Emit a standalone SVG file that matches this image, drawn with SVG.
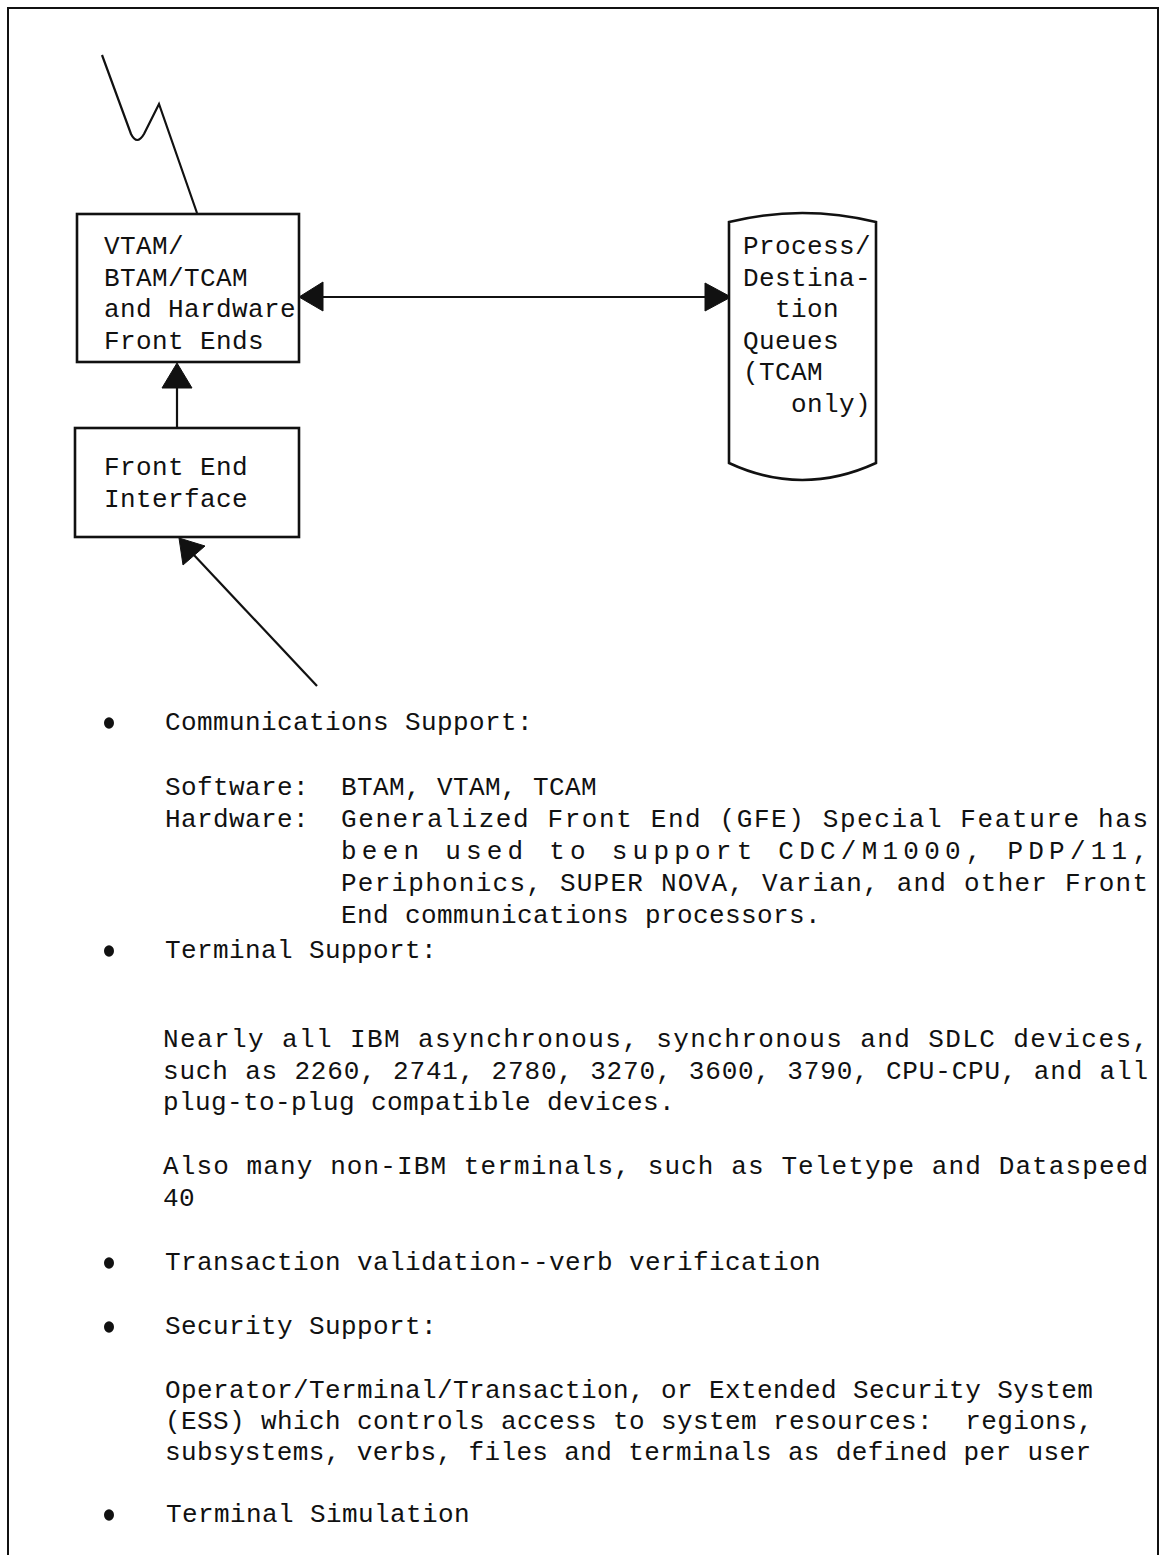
<svg xmlns="http://www.w3.org/2000/svg" width="1161" height="1555" viewBox="0 0 1161 1555">
<style>
.t{font-family:"Liberation Mono","DejaVu Sans Mono",monospace;font-size:26px;letter-spacing:0.4px;fill:#111}
.j{font-family:"Liberation Mono","DejaVu Sans Mono",monospace;font-size:26px;fill:#111}
.box{fill:#fff;stroke:#111;stroke-width:2.6}
.ln{fill:none;stroke:#111;stroke-width:2.2}
.hd{fill:#111;stroke:#111;stroke-width:1}
</style>
<rect x="0" y="0" width="1161" height="1555" fill="#fff"/>
<path d="M8,1560 L8,8 L1158,8 L1158,1560" fill="none" stroke="#111" stroke-width="2"/>

<g id="connectors">
  <path class="ln" d="M102,55 L131,134 Q137,146 144,134 L159,104 L197,213"/>
  <line class="ln" x1="320" y1="297" x2="706" y2="297"/>
  <polygon class="hd" points="299,297 323,282 323,311"/>
  <polygon class="hd" points="731,297 705,283 705,311"/>
  <line class="ln" x1="177" y1="428" x2="177" y2="385"/>
  <polygon class="hd" points="177,363 162,388 192,388"/>
  <line class="ln" x1="317" y1="686" x2="193" y2="554"/>
  <polygon class="hd" points="179,538 183,565 205,546"/>
</g>

<g id="node-vtam">
  <rect class="box" x="77" y="214" width="222" height="148"/>
  <text class="t" x="104" y="254">VTAM/</text>
  <text class="t" x="104" y="285.5">BTAM/TCAM</text>
  <text class="t" x="104" y="317">and Hardware</text>
  <text class="t" x="104" y="348.5">Front Ends</text>
</g>

<g id="node-fei">
  <rect class="box" x="75" y="428" width="224" height="109"/>
  <text class="t" x="104" y="475">Front End</text>
  <text class="t" x="104" y="507">Interface</text>
</g>

<g id="node-queues">
  <path class="box" d="M729,222 Q802,204 876,222 L876,463 Q802,497 729,463 Z"/>
  <text class="t" x="743" y="254">Process/</text>
  <text class="t" x="743" y="285.5">Destina-</text>
  <text class="t" x="775" y="317">tion</text>
  <text class="t" x="743" y="348.5">Queues</text>
  <text class="t" x="743" y="380">(TCAM</text>
  <text class="t" x="791" y="411.5">only)</text>
</g>

<g id="text-block">
  <ellipse cx="109" cy="723" rx="5" ry="5.8" fill="#111"/>
  <text class="t" x="165" y="730">Communications Support:</text>
  <text class="t" x="165" y="795" xml:space="preserve">Software:  BTAM, VTAM, TCAM</text>
  <text class="t" x="165" y="827">Hardware:</text>
  <text class="j" x="341" y="827" textLength="807" lengthAdjust="spacing">Generalized Front End (GFE) Special Feature has</text>
  <text class="j" x="341" y="859" textLength="807" lengthAdjust="spacing">been used to support CDC/M1000, PDP/11,</text>
  <text class="j" x="341" y="891" textLength="807" lengthAdjust="spacing">Periphonics, SUPER NOVA, Varian, and other Front</text>
  <text class="t" x="341" y="923">End communications processors.</text>

  <ellipse cx="109" cy="951" rx="5" ry="5.8" fill="#111"/>
  <text class="t" x="165" y="958">Terminal Support:</text>
  <text class="j" x="163" y="1047" textLength="985" lengthAdjust="spacing">Nearly all IBM asynchronous, synchronous and SDLC devices,</text>
  <text class="j" x="163" y="1079" textLength="985" lengthAdjust="spacing">such as 2260, 2741, 2780, 3270, 3600, 3790, CPU-CPU, and all</text>
  <text class="t" x="163" y="1110">plug-to-plug compatible devices.</text>
  <text class="j" x="163" y="1174" textLength="985" lengthAdjust="spacing">Also many non-IBM terminals, such as Teletype and Dataspeed</text>
  <text class="t" x="163" y="1206">40</text>

  <ellipse cx="109" cy="1263" rx="5" ry="5.8" fill="#111"/>
  <text class="t" x="165" y="1270">Transaction validation--verb verification</text>

  <ellipse cx="109" cy="1327" rx="5" ry="5.8" fill="#111"/>
  <text class="t" x="165" y="1334">Security Support:</text>
  <text class="t" x="165" y="1398">Operator/Terminal/Transaction, or Extended Security System</text>
  <text class="t" x="165" y="1429" xml:space="preserve">(ESS) which controls access to system resources:  regions,</text>
  <text class="j" x="165" y="1460" textLength="926" lengthAdjust="spacing">subsystems, verbs, files and terminals as defined per user</text>

  <ellipse cx="109" cy="1515" rx="5" ry="5.8" fill="#111"/>
  <text class="t" x="166" y="1522">Terminal Simulation</text>
</g>
</svg>
